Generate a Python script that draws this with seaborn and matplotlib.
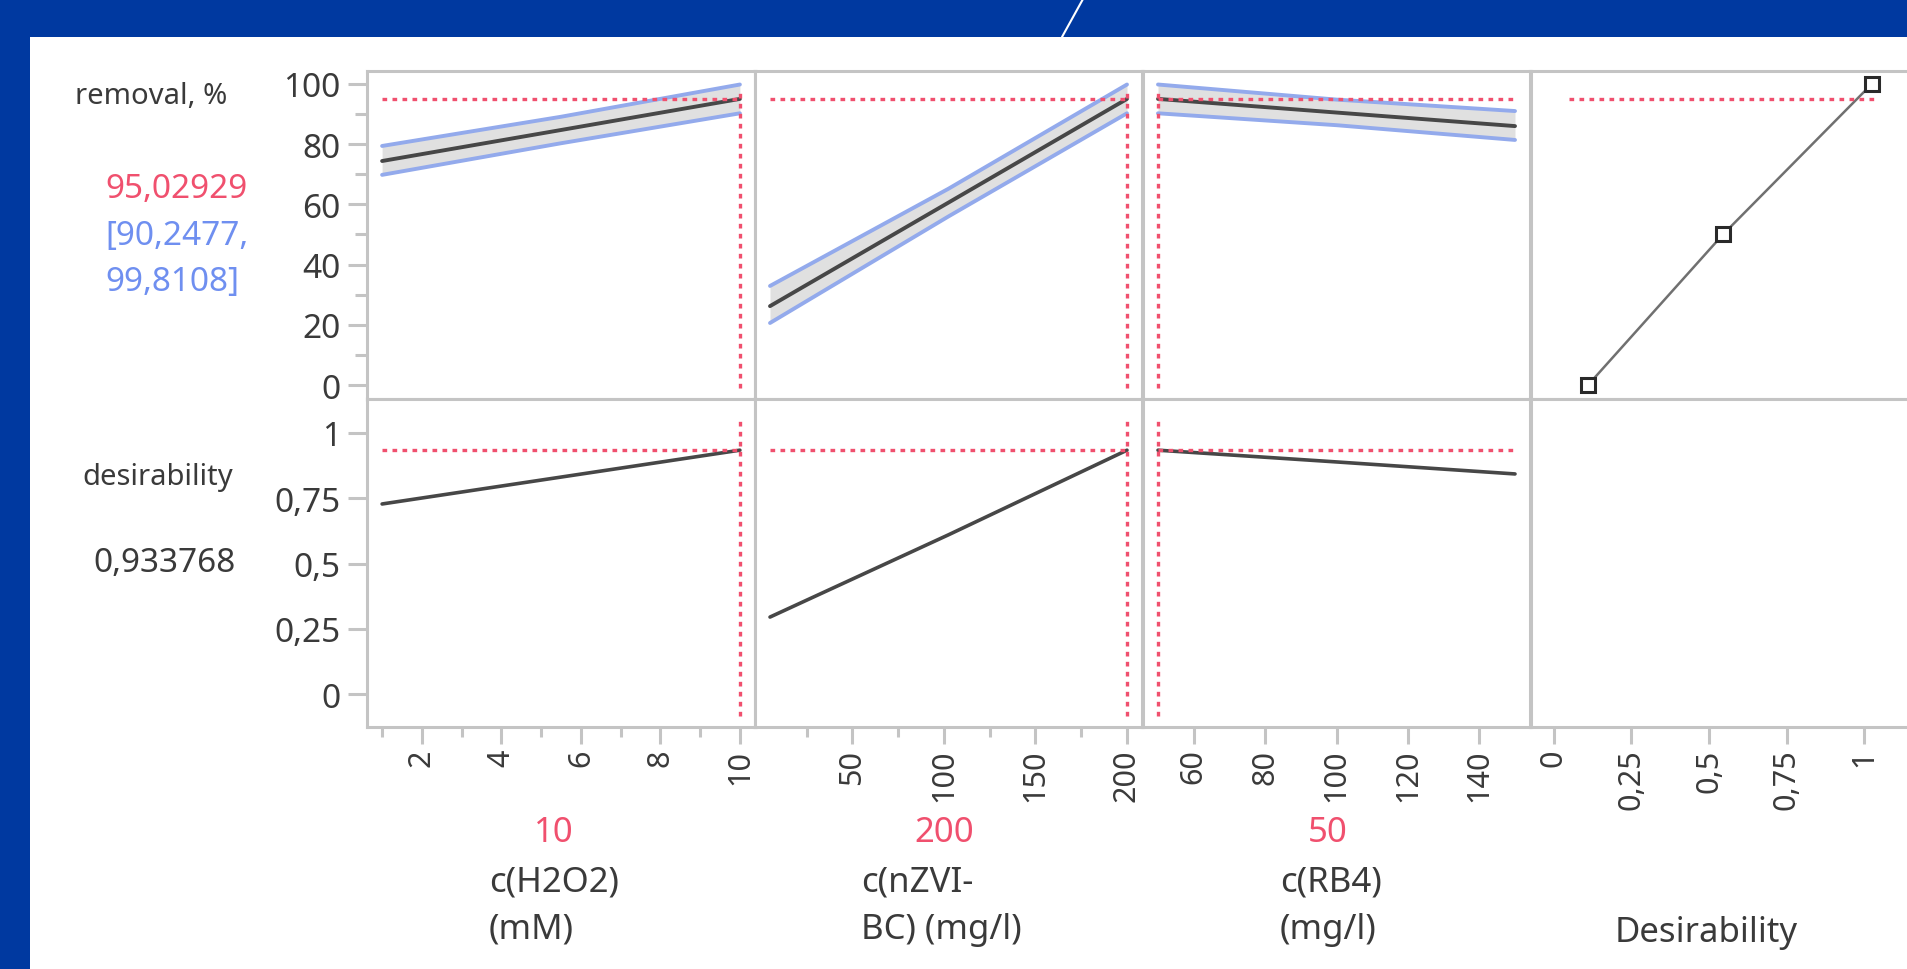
import numpy as np
import pandas as pd
import matplotlib
matplotlib.use("Agg")
import matplotlib.pyplot as plt
import seaborn as sns
from matplotlib.patches import Rectangle
from matplotlib.lines import Line2D
from matplotlib.ticker import FixedLocator, FuncFormatter

# ---------------- data ----------------
factor_titles = [["c(H2O2)", "(mM)"], ["c(nZVI-", "BC) (mg/l)"], ["c(RB4)", "(mg/l)"]]
factor_current = [10, 200, 50]

h2o2_x = [1, 5.5, 10]
h2o2_removal = [74.4, 84.7, 95.03]
h2o2_lower = [69.8, 80.3, 90.25]
h2o2_upper = [79.4, 89.1, 99.81]
h2o2_desir = [0.728, 0.831, 0.934]

nzvi_x = [5, 102.5, 200]
nzvi_removal = [26.2, 60.6, 95.03]
nzvi_lower = [20.6, 56.0, 90.25]
nzvi_upper = [32.9, 65.2, 99.81]
nzvi_desir = [0.295, 0.61, 0.934]

rb4_x = [50, 100, 150]
rb4_removal = [95.03, 90.5, 86.0]
rb4_lower = [90.25, 86.3, 81.4]
rb4_upper = [99.81, 94.8, 91.0]
rb4_desir = [0.934, 0.889, 0.843]

desir_fn_d = [0.11, 0.545, 1.025]
desir_fn_removal = [0, 50, 100]
desir_hline_span = [0.05, 1.035]

removal_pred = "95,02929"
removal_ci = ["90,2477", "99,8108"]
desirability_pred = "0,933768"
removal_pred_value = 95.02929
desirability_pred_value = 0.933768

x_major = [[2, 4, 6, 8, 10], [50, 100, 150, 200], [60, 80, 100, 120, 140], [0, 0.25, 0.5, 0.75, 1]]
x_minor = [[1, 3, 5, 7, 9], [25, 75, 125, 175], [], []]
x_limits = [(0.62, 10.38), (-3.2, 208.2), (45.8, 154.2), (-0.074, 1.177)]
removal_ticks = [0, 20, 40, 60, 80, 100]
removal_minor = [10, 30, 50, 70, 90]
desir_ticks = [0, 0.25, 0.5, 0.75, 1]

# ---------------- styling ----------------
sns.set_theme(style="white")
plt.rcParams['font.family'] = ['Noto Sans', 'DejaVu Sans']

W, H = 1908, 970
BLUE_BG = "#0039a0"
RED = "#f0506e"
CIBLUE = "#6f8ff0"
TXT = "#3a3a3a"
SPINE = "#c4c4c4"

fig = plt.figure(figsize=(W / 100, H / 100), dpi=100, facecolor=BLUE_BG)
fig.patches.append(Rectangle((30 / W, 0), 1 - 30 / W, 1 - 38 / H, transform=fig.transFigure,
                             facecolor="white", edgecolor="none", zorder=-10))
fig.lines.append(Line2D([1083 / W, 1062 / W], [1, 1 - 38 / H], transform=fig.transFigure,
                        color="white", lw=1.5))

def comma(v, pos=None):
    s = f"{v:g}"
    return s.replace(".", ",")

panel_x = [(367, 755), (755, 1142), (1143, 1530), (1531, 1919)]
rows = [(72, 400), (400, 728)]

xs = [h2o2_x, nzvi_x, rb4_x]
means = [h2o2_removal, nzvi_removal, rb4_removal]
lows = [h2o2_lower, nzvi_lower, rb4_lower]
ups = [h2o2_upper, nzvi_upper, rb4_upper]
desirs = [h2o2_desir, nzvi_desir, rb4_desir]

axes = {}
for r, (yt, yb) in enumerate(rows):
    for c, (xl, xr) in enumerate(panel_x):
        ax = fig.add_axes([xl / W, 1 - yb / H, (xr - xl) / W, (yb - yt) / H])
        ax.set_facecolor("white")
        for s in ax.spines.values():
            s.set_color(SPINE)
            s.set_linewidth(2.2)
            s.set_visible(True)
        ax.set_xlim(*x_limits[c])
        if r == 0:
            ax.set_ylim(-4.65, 104.3)
        else:
            ax.set_ylim(-0.126, 1.130)
        axes[(r, c)] = ax

dot_kw = dict(color=RED, lw=2.4, linestyle=(0, (1.4, 1.6)), zorder=5)

for c in range(3):
    # top row: prediction with confidence band
    ax = axes[(0, c)]
    df = pd.DataFrame({"x": xs[c], "mean": means[c], "lo": lows[c], "hi": ups[c]})
    ax.fill_between(df["x"], df["lo"], df["hi"], color="#e0e0e0", zorder=1, lw=0)
    sns.lineplot(data=df, x="x", y="lo", ax=ax, color="#93aaec", lw=2.8, zorder=2)
    sns.lineplot(data=df, x="x", y="hi", ax=ax, color="#93aaec", lw=2.8, zorder=2)
    sns.lineplot(data=df, x="x", y="mean", ax=ax, color="#474747", lw=2.8, zorder=3)
    ax.hlines(removal_pred_value, min(xs[c]), max(xs[c]), **dot_kw)
    ax.axvline(factor_current[c], ymin=0.035, ymax=0.94, **dot_kw)

    # bottom row: desirability trace
    ax = axes[(1, c)]
    dd = pd.DataFrame({"x": xs[c], "d": desirs[c]})
    sns.lineplot(data=dd, x="x", y="d", ax=ax, color="#474747", lw=2.6, zorder=3)
    ax.hlines(desirability_pred_value, min(xs[c]), max(xs[c]), **dot_kw)
    ax.axvline(factor_current[c], ymin=0.035, ymax=0.94, **dot_kw)

# desirability function panel
ax = axes[(0, 3)]
dfn = pd.DataFrame({"d": desir_fn_d, "removal": desir_fn_removal})
sns.lineplot(data=dfn, x="d", y="removal", ax=ax, color="#707070", lw=1.8, sort=False,
             marker="s", markersize=10, markerfacecolor="white", markeredgecolor="#2a2a2a",
             markeredgewidth=2.2, zorder=4)
ax.hlines(removal_pred_value, desir_hline_span[0], desir_hline_span[1], **dot_kw)

# ticks
for (r, c), ax in axes.items():
    ax.set_xlabel("")
    ax.set_ylabel("")
    ax.tick_params(which="both", color="#c4c4c4", width=2.2, labelcolor=TXT)
    if r == 1:
        ax.xaxis.set_major_locator(FixedLocator(x_major[c]))
        ax.xaxis.set_minor_locator(FixedLocator(x_minor[c]))
        ax.xaxis.set_major_formatter(FuncFormatter(comma))
        ax.tick_params(axis="x", which="major", bottom=True, length=12, pad=3.5, labelsize=22,
                       labelrotation=90)
        ax.tick_params(axis="x", which="minor", bottom=True, length=7)
    else:
        ax.set_xticks([])
    if c == 0:
        if r == 0:
            ax.yaxis.set_major_locator(FixedLocator(removal_ticks))
            ax.yaxis.set_minor_locator(FixedLocator(removal_minor))
        else:
            ax.yaxis.set_major_locator(FixedLocator(desir_ticks))
        ax.yaxis.set_major_formatter(FuncFormatter(comma))
        ax.tick_params(axis="y", which="major", left=True, length=14, pad=5, labelsize=24)
        ax.tick_params(axis="y", which="minor", left=True, length=8.5)
    else:
        ax.set_yticks([])

# left-hand texts
def ftext(x, y, s, **kw):
    fig.text(x / W, 1 - y / H, s, va="center", **kw)

ftext(75, 97, "removal, %", ha="left", fontsize=21, color=TXT)
ftext(105, 189, removal_pred, ha="left", fontsize=24, color=RED)
ftext(105, 237, "[" + removal_ci[0] + ",", ha="left", fontsize=24, color=CIBLUE)
ftext(105, 283, removal_ci[1] + "]", ha="left", fontsize=24, color=CIBLUE)
ftext(82, 477, "desirability", ha="left", fontsize=21, color=TXT)
ftext(93, 563, desirability_pred, ha="left", fontsize=24, color=TXT)

# factor labels below
cur_x = [554, 944, 1328]
name_left = [489, 861, 1280]
for c in range(3):
    ftext(cur_x[c], 833, comma(factor_current[c]), ha="center", fontsize=25, color=RED)
    ftext(name_left[c], 883, factor_titles[c][0], ha="left", fontsize=25, color=TXT)
    ftext(name_left[c], 930, factor_titles[c][1], ha="left", fontsize=25, color=TXT)
ftext(1615, 933, "Desirability", ha="left", fontsize=25, color=TXT)

fig.savefig("out.png", dpi=100, facecolor=BLUE_BG)
